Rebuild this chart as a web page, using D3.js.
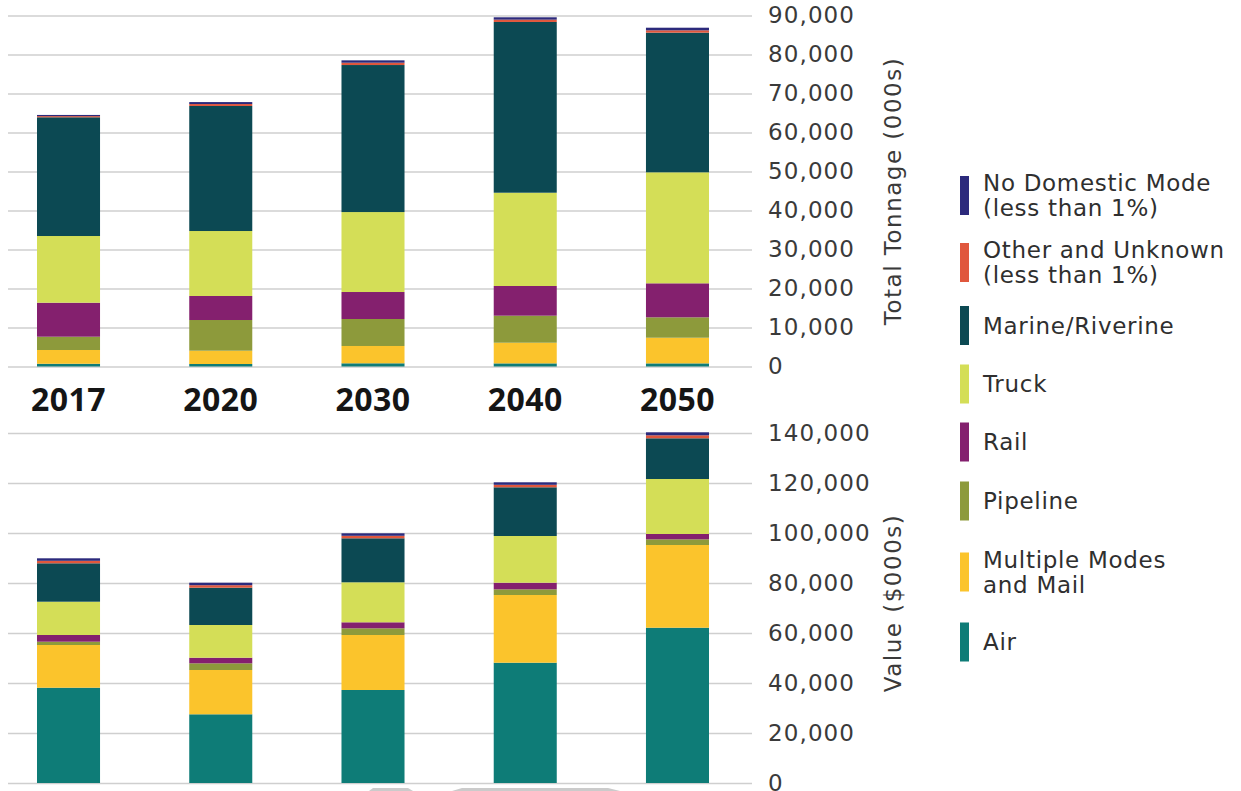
<!DOCTYPE html>
<html>
<head>
<meta charset="utf-8">
<script src="https://cdn.jsdelivr.net/npm/d3@7"></script>
<style>
  html, body { margin: 0; padding: 0; background: #fff; }
  svg { display: block; }
  .tick text { font-family: "DejaVu Sans", sans-serif; }
</style>
</head>
<body>
<svg id="chart" width="1241" height="791"></svg>
<script>
// ---- data ----
const years = ["2017", "2020", "2030", "2040", "2050"];
// stack order bottom -> top
const modes = ["Air", "Multiple Modes and Mail", "Pipeline", "Rail", "Truck", "Marine/Riverine", "Other and Unknown", "No Domestic Mode"];
const modeColors = ["#0e7c77", "#fbc42c", "#8d9a3b", "#84206e", "#d4de57", "#0c4953", "#e0573d", "#2c2a7c"];
// Tonnage (000s) per mode, per year
const tonAir      = [700, 640, 820, 800, 800];
const tonMulti    = [3530, 3410, 4440, 5300, 6580];
const tonPipeline = [3410, 7870, 6920, 6930, 5230];
const tonRail     = [8720, 6160, 6920, 7610, 8720];
const tonTruck    = [17100, 16660, 20500, 23920, 28460];
const tonMarine   = [30440, 32060, 37700, 43780, 35810];
const tonOther    = [300, 500, 600, 600, 600];
const tonNoDom    = [300, 500, 600, 600, 670];
// Value ($000s) per mode, per year
const valAir      = [38120, 27480, 37200, 48120, 62120];
const valMulti    = [17080, 17720, 22000, 27080, 33080];
const valPipeline = [1320, 2680, 2680, 2280, 2280];
const valRail     = [2680, 2240, 2400, 2640, 2120];
const valTruck    = [13320, 13080, 16000, 18680, 22000];
const valMarine   = [15360, 14920, 17600, 19480, 16280];
const valOther    = [1000, 1000, 1000, 1000, 1200];
const valNoDom    = [1000, 1000, 1000, 1000, 1200];
const tonTicks = [0, 10000, 20000, 30000, 40000, 50000, 60000, 70000, 80000, 90000];
const valTicks = [0, 20000, 40000, 60000, 80000, 100000, 120000, 140000];
const legendLabels = [
  ["No Domestic Mode", "(less than 1%)"],
  ["Other and Unknown", "(less than 1%)"],
  ["Marine/Riverine"],
  ["Truck"],
  ["Rail"],
  ["Pipeline"],
  ["Multiple Modes", "and Mail"],
  ["Air"]
];
const legendKeys = ["No Domestic Mode", "Other and Unknown", "Marine/Riverine", "Truck", "Rail", "Pipeline", "Multiple Modes and Mail", "Air"];

// ---- build tables ----
function table(cols) {
  return years.map((y, i) => {
    const row = { year: y };
    modes.forEach((m, k) => row[m] = cols[k][i]);
    return row;
  });
}
const tonData = table([tonAir, tonMulti, tonPipeline, tonRail, tonTruck, tonMarine, tonOther, tonNoDom]);
const valData = table([valAir, valMulti, valPipeline, valRail, valTruck, valMarine, valOther, valNoDom]);

const color = d3.scaleOrdinal().domain(modes).range(modeColors);
const svg = d3.select("#chart");

// faint watermark fragments at the bottom edge (decoration)
svg.append("path").attr("d", "M373,788 L408,788 L413,791 L369,791 Z").attr("fill", "#cbcbcb");
svg.append("path").attr("d", "M462,788 L608,788 L620,791 L452,791 Z").attr("fill", "#cbcbcb");

const gridLeft = 8, gridRight = 752;
const x = d3.scaleBand().domain(years).range([-7.6, 753.6]).paddingInner(0.586).paddingOuter(0.293);

function panel(data, ticks, yTop, yBottom, maxV, title, titleY) {
  const y = d3.scaleLinear().domain([0, maxV]).range([yBottom, yTop]);
  const ax = svg.append("g")
    .attr("transform", `translate(${gridRight},0)`)
    .call(d3.axisRight(y).tickValues(ticks).tickFormat(d3.format(","))
      .tickSizeInner(-(gridRight - gridLeft)).tickSizeOuter(0).tickPadding(16));
  ax.select(".domain").remove();
  ax.selectAll(".tick line").attr("stroke", "#cfcfcf").attr("stroke-width", 1.6);
  ax.selectAll(".tick text").attr("fill", "#3a3a3a").attr("font-size", 23).attr("letter-spacing", 1.1);

  const stacked = d3.stack().keys(modes)(data);
  svg.append("g").selectAll("g").data(stacked).join("g")
    .attr("fill", d => color(d.key))
    .selectAll("rect").data(d => d).join("rect")
    .attr("x", d => x(d.data.year))
    .attr("width", x.bandwidth())
    .attr("y", d => y(d[1]))
    .attr("height", d => Math.max(0, y(d[0]) - y(d[1])));

  svg.append("text")
    .attr("transform", `translate(901,${titleY}) rotate(-90)`)
    .attr("text-anchor", "middle")
    .attr("font-family", "DejaVu Sans, sans-serif")
    .attr("font-size", 23)
    .attr("letter-spacing", 1.5)
    .attr("fill", "#3a3a3a")
    .text(title);
}

panel(tonData, tonTicks, 15.5, 366.5, 90000, "Total Tonnage (000s)", 191);
panel(valData, valTicks, 433, 783, 140000, "Value ($000s)", 603);

// year labels
svg.append("g").selectAll("text").data(years).join("text")
  .attr("x", d => x(d) + x.bandwidth() / 2)
  .attr("y", 411)
  .attr("text-anchor", "middle")
  .attr("font-family", "Open Sans, sans-serif")
  .attr("font-weight", 700)
  .attr("font-size", 32)
  .attr("letter-spacing", 0.5)
  .attr("fill", "#151515")
  .text(d => d);

// legend
const legendY = [195.5, 262.5, 325.5, 384, 442, 501, 572, 642];
const lg = svg.append("g").selectAll("g").data(legendKeys).join("g")
  .attr("transform", (d, i) => `translate(960,${legendY[i]})`);
lg.append("rect")
  .attr("x", 0).attr("y", -19.5).attr("width", 9).attr("height", 39)
  .attr("fill", d => color(d));
lg.append("text")
  .attr("x", 23)
  .attr("font-family", "DejaVu Sans, sans-serif")
  .attr("font-size", 23)
  .attr("letter-spacing", 0.7)
  .attr("fill", "#2f2f2f")
  .each(function(d, i) {
    const lines = legendLabels[i];
    const t = d3.select(this);
    const y0 = lines.length === 2 ? -12.5 : 0;
    lines.forEach((ln, j) => {
      t.append("tspan").attr("x", 23).attr("y", y0 + j * 25).attr("dy", "0.35em").text(ln);
    });
  });
</script>
</body>
</html>
